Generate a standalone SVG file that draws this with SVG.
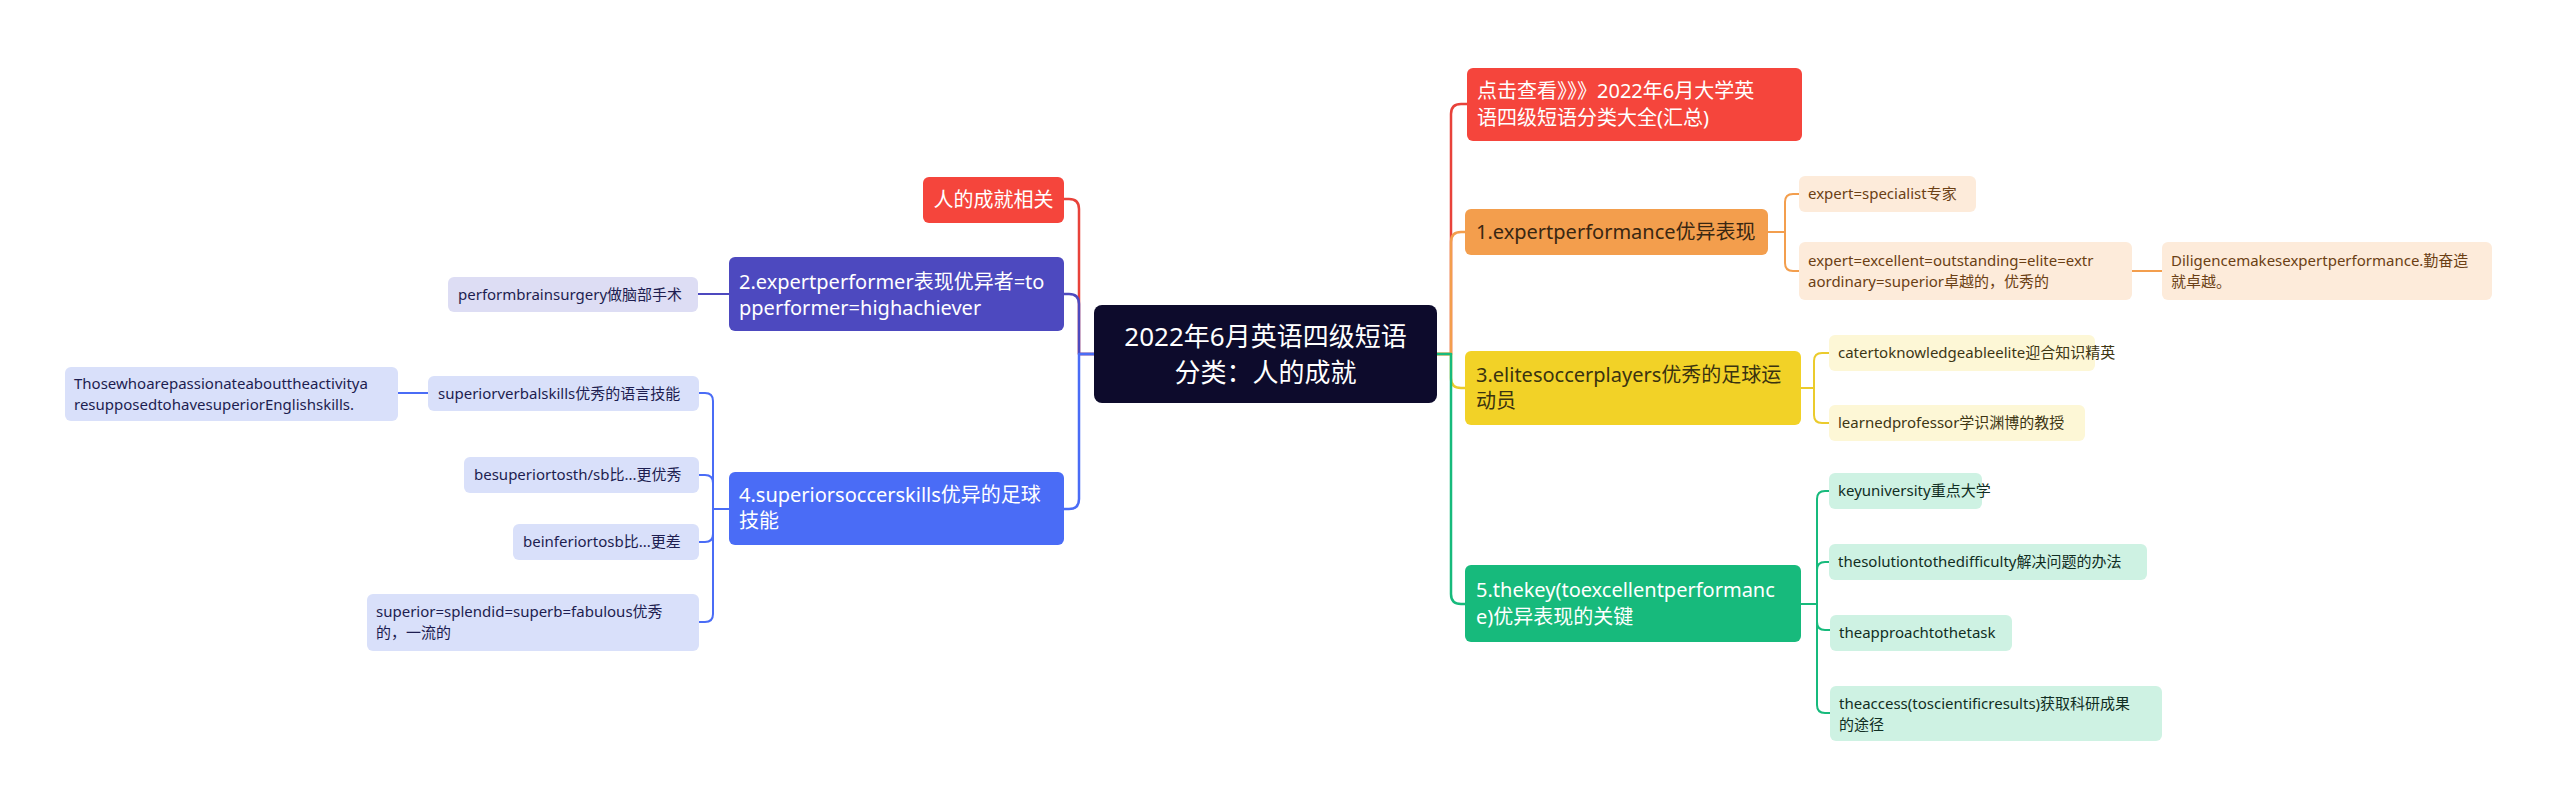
<svg xmlns="http://www.w3.org/2000/svg" width="2560" height="810" viewBox="0 0 2560 810">
<style>
text{font-family:"Noto Sans","Noto Sans CJK SC",sans-serif;}
.cjk{font-family:"Noto Sans CJK SC",sans-serif;}
.c{fill:none;stroke-linecap:round;stroke-linejoin:round;}
.m{stroke-width:2.5;}
.s{stroke-width:2;}
.t0{font-size:26px;fill:#ffffff;text-anchor:middle;}
.t1{font-size:20px;}
.t2{font-size:15px;}
.w{fill:#ffffff;}
</style>
<rect width="2560" height="810" fill="#ffffff"/>
<g id="connectors">
<path class="c m" stroke="#E8423A" d="M1094,354 H1079 V209 Q1079,199 1069,199 H1064"/>
<path class="c m" stroke="#4D49BF" d="M1094,354 H1079 V304 Q1079,294 1069,294 H1064"/>
<path class="c m" stroke="#4A6CF6" d="M1094,354 H1079 V499 Q1079,509 1069,509 H1064"/>
<path class="c m" stroke="#E8423A" d="M1437,354 H1451 V114 Q1451,104 1461,104 H1467"/>
<path class="c m" stroke="#F39E4D" d="M1437,354 H1451 V242 Q1451,232 1461,232 H1465"/>
<path class="c m" stroke="#EBCB2C" d="M1437,354 H1451 V378 Q1451,388 1461,388 H1465"/>
<path class="c m" stroke="#17BA7C" d="M1437,354 H1451 V594 Q1451,604 1461,604 H1465"/>
<path class="c s" stroke="#4D49BF" d="M729,294 H698"/>
<path class="c s" stroke="#4A6CF6" d="M729,509 H713 V401 Q713,393 705,393 H699"/>
<path class="c s" stroke="#4A6CF6" d="M729,509 H713 V483 Q713,475 705,475 H699"/>
<path class="c s" stroke="#4A6CF6" d="M729,509 H713 V534 Q713,542 705,542 H699"/>
<path class="c s" stroke="#4A6CF6" d="M729,509 H713 V614 Q713,622 705,622 H699"/>
<path class="c s" stroke="#4A6CF6" d="M428,393 H398"/>
<path class="c s" stroke="#F39E4D" d="M1768,232 H1785 V202 Q1785,194 1793,194 H1799"/>
<path class="c s" stroke="#F39E4D" d="M1768,232 H1785 V263 Q1785,271 1793,271 H1799"/>
<path class="c s" stroke="#F39E4D" d="M2132,271 H2162"/>
<path class="c s" stroke="#EBCB2C" d="M1801,388 H1814 V361 Q1814,353 1822,353 H1829"/>
<path class="c s" stroke="#EBCB2C" d="M1801,388 H1814 V415 Q1814,423 1822,423 H1829"/>
<path class="c s" stroke="#17BA7C" d="M1801,604 H1817 V499 Q1817,491 1825,491 H1829"/>
<path class="c s" stroke="#17BA7C" d="M1801,604 H1817 V570 Q1817,562 1825,562 H1829"/>
<path class="c s" stroke="#17BA7C" d="M1801,604 H1817 V622 Q1817,630 1825,630 H1830"/>
<path class="c s" stroke="#17BA7C" d="M1801,604 H1817 V705 Q1817,713 1825,713 H1830"/>
</g>
<g id="center">
<rect x="1094" y="305" width="343" height="98" rx="8" fill="#0D0B2C"/>
<text class="t0" x="1265.5" y="346">2022年6月英语四级短语</text>
<text class="t0" x="1265.5" y="382">分类：人的成就</text>
</g>
<g id="n-renchengjiu">
<rect x="923" y="177" width="141" height="46" rx="6" fill="#F5453C"/>
<text class="t1 w" x="993.5" y="207" text-anchor="middle">人的成就相关</text>
</g>
<g id="n-expertperformer">
<rect x="729" y="257" width="335" height="74" rx="6" fill="#4D49BF"/>
<text class="t1 w" x="739" y="289">2.expertperformer表现优异者=to</text>
<text class="t1 w" x="739" y="315">pperformer=highachiever</text>
</g>
<g id="n-brainsurgery">
<rect x="448" y="277" width="250" height="35" rx="6" fill="#DDDDF4"/>
<text class="t2" x="458" y="300" fill="#1D1D50">performbrainsurgery做脑部手术</text>
</g>
<g id="n-soccerskills">
<rect x="729" y="472" width="335" height="73" rx="6" fill="#4A6CF6"/>
<text class="t1 w" x="739" y="502">4.superiorsoccerskills优异的足球</text>
<text class="t1 w" x="739" y="528">技能</text>
</g>
<g id="n-verbalskills">
<rect x="428" y="376" width="271" height="35" rx="6" fill="#D9E0FA"/>
<text class="t2" x="438" y="399" fill="#1D1D50">superiorverbalskills优秀的语言技能</text>
</g>
<g id="n-those">
<rect x="65" y="367" width="333" height="54" rx="6" fill="#D9E0FA"/>
<text class="t2" x="74" y="389" fill="#1D1D50">Thosewhoarepassionateabouttheactivitya</text>
<text class="t2" x="74" y="410" fill="#1D1D50">resupposedtohavesuperiorEnglishskills.</text>
</g>
<g id="n-besuperior">
<rect x="464" y="457" width="235" height="36" rx="6" fill="#D9E0FA"/>
<text class="t2" x="474" y="480" fill="#1D1D50">besuperiortosth/sb比...更优秀</text>
</g>
<g id="n-beinferior">
<rect x="513" y="524" width="186" height="36" rx="6" fill="#D9E0FA"/>
<text class="t2" x="523" y="547" fill="#1D1D50">beinferiortosb比...更差</text>
</g>
<g id="n-splendid">
<rect x="367" y="594" width="332" height="57" rx="6" fill="#D9E0FA"/>
<text class="t2" x="376" y="617" fill="#1D1D50">superior=splendid=superb=fabulous优秀</text>
<text class="t2" x="376" y="638" fill="#1D1D50">的，一流的</text>
</g>
<g id="n-dianji">
<rect x="1467" y="68" width="335" height="73" rx="6" fill="#F5453C"/>
<text class="t1 w" x="1477" y="98">点击查看<tspan class="cjk">》》》</tspan>2022年6月大学英</text>
<text class="t1 w" x="1477" y="125">语四级短语分类大全(汇总)</text>
</g>
<g id="n-expertperformance">
<rect x="1465" y="209" width="303" height="46" rx="6" fill="#F39E4D"/>
<text class="t1" x="1476" y="239" fill="#3A2712">1.expertperformance优异表现</text>
</g>
<g id="n-specialist">
<rect x="1799" y="176" width="177" height="36" rx="6" fill="#FDEBDA"/>
<text class="t2" x="1808" y="199" fill="#6B3F14">expert=specialist专家</text>
</g>
<g id="n-excellent">
<rect x="1799" y="242" width="333" height="58" rx="6" fill="#FDEBDA"/>
<text class="t2" x="1808" y="266" fill="#6B3F14">expert=excellent=outstanding=elite=extr</text>
<text class="t2" x="1808" y="287" fill="#6B3F14">aordinary=superior卓越的，优秀的</text>
</g>
<g id="n-diligence">
<rect x="2162" y="242" width="330" height="58" rx="6" fill="#FDEBDA"/>
<text class="t2" x="2171" y="266" fill="#6B3F14">Diligencemakesexpertperformance.勤奋造</text>
<text class="t2" x="2171" y="287" fill="#6B3F14">就卓越。</text>
</g>
<g id="n-elite">
<rect x="1465" y="351" width="336" height="74" rx="6" fill="#F2D227"/>
<text class="t1" x="1476" y="382" fill="#3A3310">3.elitesoccerplayers优秀的足球运</text>
<text class="t1" x="1476" y="408" fill="#3A3310">动员</text>
</g>
<g id="n-cater">
<rect x="1829" y="335" width="266" height="36" rx="6" fill="#FDF7D6"/>
<text class="t2" x="1838" y="358" fill="#3E3614">catertoknowledgeableelite迎合知识精英</text>
</g>
<g id="n-learned">
<rect x="1829" y="405" width="256" height="36" rx="6" fill="#FDF7D6"/>
<text class="t2" x="1838" y="428" fill="#3E3614">learnedprofessor学识渊博的教授</text>
</g>
<g id="n-thekey">
<rect x="1465" y="565" width="336" height="77" rx="6" fill="#17BA7C"/>
<text class="t1 w" x="1476" y="597">5.thekey(toexcellentperformanc</text>
<text class="t1 w" x="1476" y="624">e)优异表现的关键</text>
</g>
<g id="n-keyuniversity">
<rect x="1829" y="473" width="153" height="36" rx="6" fill="#CEF2E3"/>
<text class="t2" x="1838" y="496" fill="#112E23">keyuniversity重点大学</text>
</g>
<g id="n-solution">
<rect x="1829" y="544" width="318" height="36" rx="6" fill="#CEF2E3"/>
<text class="t2" x="1838" y="567" fill="#112E23">thesolutiontothedifficulty解决问题的办法</text>
</g>
<g id="n-approach">
<rect x="1830" y="615" width="182" height="36" rx="6" fill="#CEF2E3"/>
<text class="t2" x="1839" y="638" fill="#112E23">theapproachtothetask</text>
</g>
<g id="n-access">
<rect x="1830" y="686" width="332" height="55" rx="6" fill="#CEF2E3"/>
<text class="t2" x="1839" y="709" fill="#112E23">theaccess(toscientificresults)获取科研成果</text>
<text class="t2" x="1839" y="730" fill="#112E23">的途径</text>
</g>
</svg>
